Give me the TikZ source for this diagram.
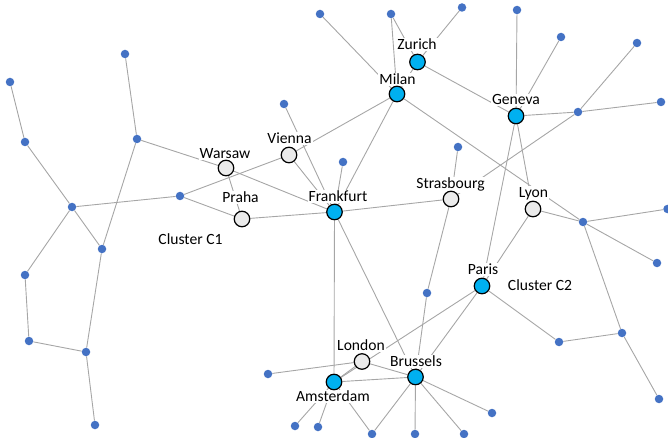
\documentclass[tikz,border=0pt]{standalone}
\usepackage{fontspec}
\setmainfont{Carlito}
\pgfdeclarelayer{bg}
\pgfsetlayers{bg,main}
\definecolor{edgegray}{HTML}{A6A6A6}
\definecolor{dotblue}{HTML}{4472C4}
\definecolor{cyanfill}{HTML}{00B0F0}
\definecolor{grayfill}{HTML}{EBEBEB}
\tikzset{
  bdot/.style={circle, fill=dotblue, draw=none, minimum size=8.5pt, inner sep=0pt},
  hub/.style={circle, fill=cyanfill, draw=black, line width=1.2pt, minimum size=15.5pt, inner sep=0pt},
  city/.style={hub, fill=grayfill},
  lbl/.style={fill=white, inner sep=1pt, anchor=base, font=\fontsize{15.6}{18}\selectfont},
  link/.style={draw=edgegray, line width=0.9pt},
}
\begin{document}
\begin{tikzpicture}[x=1pt,y=-1pt]
\useasboundingbox (0,0) rectangle (668,438);
% labels
\node[lbl] (lWarsaw) at (225,158.5) {Warsaw};
\node[lbl] (lVienna) at (289.5,144) {Vienna};
\node[lbl] (lPraha) at (240.5,203) {Praha};
\node[lbl] (lC1) at (190.5,244) {Cluster C1};
\node[lbl] (lFrankfurt) at (338,201.5) {Frankfurt};
\node[lbl] (lMilan) at (397.5,85) {Milan};
\node[lbl] (lZurich) at (417,50) {Zurich};
\node[lbl] (lGeneva) at (516,105) {Geneva};
\node[lbl] (lStrasbourg) at (450.5,189) {Strasbourg};
\node[lbl] (lLyon) at (533.5,197) {Lyon};
\node[lbl] (lParis) at (483,274.5) {Paris};
\node[lbl] (lC2) at (540,290.5) {Cluster C2};
\node[lbl] (lLondon) at (361,350.5) {London};
\node[lbl] (lBrussels) at (416,366.5) {Brussels};
\node[lbl] (lAmsterdam) at (333,401.5) {Amsterdam};
% small dots
\node[bdot] (d1) at (10,82) {};
\node[bdot] (d2) at (25,142) {};
\node[bdot] (d3) at (125,54) {};
\node[bdot] (d4) at (137,139) {};
\node[bdot] (d5) at (72,207) {};
\node[bdot] (d6) at (180,196) {};
\node[bdot] (d7) at (102,249) {};
\node[bdot] (d8) at (25,275) {};
\node[bdot] (d9) at (29,341) {};
\node[bdot] (d10) at (86,352) {};
\node[bdot] (d11) at (95,425) {};
\node[bdot] (dv) at (284,104) {};
\node[bdot] (df) at (343,162) {};
\node[bdot] (dm1) at (320,14) {};
\node[bdot] (dm2) at (391,14) {};
\node[bdot] (dz) at (462,7.5) {};
\node[bdot] (dg1) at (517,10) {};
\node[bdot] (dg2) at (561,37) {};
\node[bdot] (dg3) at (578,112) {};
\node[bdot] (dg4) at (637,43) {};
\node[bdot] (dg5) at (661,102) {};
\node[bdot] (ds) at (458,147) {};
\node[bdot] (db) at (427,293) {};
\node[bdot] (dL) at (583,222) {};
\node[bdot] (dr1) at (667.5,209) {};
\node[bdot] (dr2) at (657,263) {};
\node[bdot] (dr3) at (622,333) {};
\node[bdot] (dr4) at (559,342) {};
\node[bdot] (dr5) at (659,399) {};
\node[bdot] (dl) at (268,374) {};
\node[bdot] (da1) at (295,426) {};
\node[bdot] (da2) at (318,427) {};
\node[bdot] (db1) at (372,434) {};
\node[bdot] (db2) at (415,434) {};
\node[bdot] (db3) at (464,434) {};
\node[bdot] (db4) at (492,413) {};
% big nodes
\node[city] (Warsaw) at (226,168) {};
\node[city] (Vienna) at (289,155) {};
\node[city] (Praha) at (242,219) {};
\node[hub] (Frankfurt) at (334.5,212) {};
\node[hub] (Milan) at (397,94) {};
\node[hub] (Zurich) at (417.5,62) {};
\node[hub] (Geneva) at (516,116) {};
\node[city] (Strasbourg) at (451,199) {};
\node[city] (Lyon) at (533,209) {};
\node[hub] (Paris) at (482,286) {};
\node[city] (London) at (362,361.5) {};
\node[hub] (Amsterdam) at (334,382) {};
\node[hub] (Brussels) at (415.5,377) {};
% edges
\begin{pgfonlayer}{bg}
\draw[link] (d1) -- (d2);
\draw[link] (d2) -- (d5);
\draw[link] (d3) -- (d4);
\draw[link] (d4) -- (Warsaw);
\draw[link] (d4) -- (d7);
\draw[link] (d5) -- (d6);
\draw[link] (d5) -- (d7);
\draw[link] (d5) -- (d8);
\draw[link] (d8) -- (d9);
\draw[link] (d9) -- (d10);
\draw[link] (d10) -- (d7);
\draw[link] (d10) -- (d11);
\draw[link] (d6) -- (Vienna);
\draw[link] (d6) -- (Praha);
\draw[link] (Warsaw) -- (Praha);
\draw[link] (Warsaw) -- (Frankfurt);
\draw[link] (Vienna) -- (Frankfurt);
\draw[link] (Vienna) -- (Milan);
\draw[link] (dv) -- (Frankfurt);
\draw[link] (df) -- (Frankfurt);
\draw[link] (Praha) -- (Frankfurt);
\draw[link] (Frankfurt) -- (Milan);
\draw[link] (Frankfurt) -- (Strasbourg);
\draw[link] (Frankfurt) -- (Amsterdam);
\draw[link] (Frankfurt) -- (Brussels);
\draw[link] (Milan) -- (Zurich);
\draw[link] (Milan) -- (dm1);
\draw[link] (Milan) -- (dm2);
\draw[link] (Zurich) -- (dm2);
\draw[link] (Zurich) -- (dz);
\draw[link] (Zurich) -- (Geneva);
\draw[link] (Milan) -- (dL);
\draw[link] (Geneva) -- (dg1);
\draw[link] (Geneva) -- (dg2);
\draw[link] (Geneva) -- (dg3);
\draw[link] (Geneva) -- (Paris);
\draw[link] (Geneva) -- (Lyon);
\draw[link] (dg3) -- (dg4);
\draw[link] (dg3) -- (dg5);
\draw[link] (dg3) -- (Strasbourg);
\draw[link] (Strasbourg) -- (ds);
\draw[link] (Strasbourg) -- (db);
\draw[link] (db) -- (Brussels);
\draw[link] (Lyon) -- (dL);
\draw[link] (Lyon) -- (Paris);
\draw[link] (dL) -- (dr1);
\draw[link] (dL) -- (dr2);
\draw[link] (dL) -- (dr3);
\draw[link] (dr3) -- (dr4);
\draw[link] (dr3) -- (dr5);
\draw[link] (dr4) -- (Paris);
\draw[link] (Paris) -- (Brussels);
\draw[link] (Paris) -- (Amsterdam);
\draw[link] (London) -- (Amsterdam);
\draw[link] (London) -- (Brussels);
\draw[link] (London) -- (dl);
\draw[link] (Amsterdam) -- (Brussels);
\draw[link] (Amsterdam) -- (da1);
\draw[link] (Amsterdam) -- (da2);
\draw[link] (Amsterdam) -- (db1);
\draw[link] (Brussels) -- (db1);
\draw[link] (Brussels) -- (db2);
\draw[link] (Brussels) -- (db3);
\draw[link] (Brussels) -- (db4);
\end{pgfonlayer}
\end{tikzpicture}
\end{document}
